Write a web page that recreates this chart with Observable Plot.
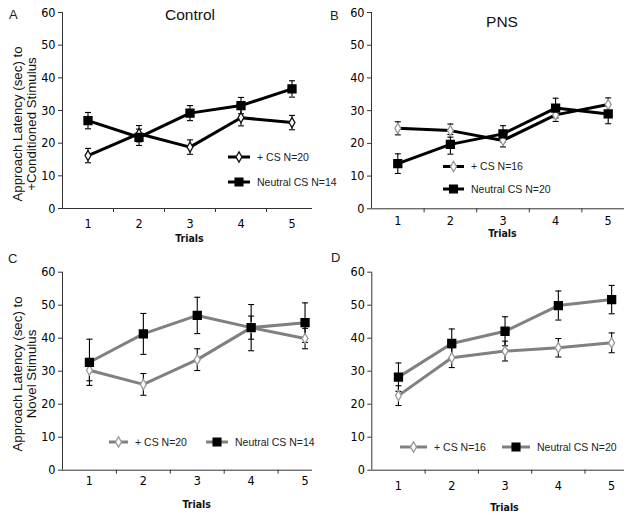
<!DOCTYPE html>
<html><head><meta charset="utf-8">
<script src="https://cdn.jsdelivr.net/npm/d3@7"></script>
<script src="https://cdn.jsdelivr.net/npm/@observablehq/plot@0.6"></script>
<style>
body{margin:0;background:#fff;width:624px;height:518px;overflow:hidden;position:relative}
.panel{position:absolute;width:312px;height:259px;overflow:hidden}
.panel svg{max-width:none !important;height:259px !important}
#overlay{position:absolute;left:0;top:0;pointer-events:none}
</style></head><body>
<script>
// ---- data ----
const trials = [1, 2, 3, 4, 5];
const yTicks = [0, 10, 20, 30, 40, 50, 60];
const boundaryTicks = [1.5, 2.5, 3.5, 4.5];

const A_plus = [16.2, 22.9, 18.8, 27.8, 26.3];
const A_plusErr = [2.2, 2.5, 2.2, 2.5, 2.2];
const A_neutral = [26.9, 21.8, 29.2, 31.5, 36.6];
const A_neutralErr = [2.5, 2.5, 2.3, 2.5, 2.5];

const B_plus = [24.6, 23.9, 20.9, 28.7, 31.9];
const B_plusErr = [2.0, 2.0, 2.0, 2.0, 2.0];
const B_neutral = [13.8, 19.7, 22.9, 30.8, 29.0];
const B_neutralErr = [3.0, 3.0, 2.5, 3.0, 3.0];

const C_plus = [30.3, 26.0, 33.5, 43.2, 39.9];
const C_plusErr = [3.2, 3.3, 3.3, 3.5, 3.1];
const C_neutral = [32.7, 41.3, 46.9, 43.2, 44.7];
const C_neutralErr = [7.0, 6.2, 5.5, 7.0, 6.0];

const D_plus = [22.6, 34.1, 36.1, 37.1, 38.6];
const D_plusErr = [3.0, 3.0, 3.0, 2.8, 3.0];
const D_neutral = [28.2, 38.4, 42.1, 49.9, 51.7];
const D_neutralErr = [4.3, 4.4, 4.4, 4.4, 4.3];

const panelLetters = ["A", "B", "C", "D"];
const panelTitles = ["Control", "PNS", "", ""];
const yLabelsTop = ["Approach Latency (sec) to", "+Conditioned Stimulus"];
const yLabelsBottom = ["Approach Latency (sec) to", "Novel Stimulus"];
const xLabel = "Trials";
const legendPlus = ["+ CS N=20", "+ CS  N=16", "+ CS N=20", "+ CS  N=16"];
const legendNeutral = ["Neutral CS N=14", "Neutral CS  N=20", "Neutral CS N=14", "Neutral CS  N=20"];

// ---- layout / style ----
const tickFont = "'Liberation Sans Narrow','DejaVu Sans Condensed','Arial Narrow',sans-serif";
const textFont = "'Liberation Sans',Arial,sans-serif";

const panels = [
  {left: 0, top: 0, ml: 62, step: 51, yTop: 12, yBot: 208, plus: A_plus, plusErr: A_plusErr, neutral: A_neutral, neutralErr: A_neutralErr,
   line: "#000", dStroke: "#111", tickDy: 14, trialsY: 238, legX: 228, legW: 22, legY1: 157, legY2: 182},
  {left: 312, top: 0, ml: 59, step: 52.6, yTop: 12, yBot: 208.3, plus: B_plus, plusErr: B_plusErr, neutral: B_neutral, neutralErr: B_neutralErr,
   line: "#000", dStroke: "#999", tickDy: 10, trialsY: 233, legX: 443, legW: 21, legY1: 166.5, legY2: 189},
  {left: 0, top: 259, ml: 62, step: 53.9, yTop: 12.7, yBot: 210.7, plus: C_plus, plusErr: C_plusErr, neutral: C_neutral, neutralErr: C_neutralErr,
   line: "#808080", dStroke: "#999", tickDy: 9, trialsY: 504.5, legX: 109, legW: 19, legY1: 442, legY2: 442, legX2: 206, legW2: 22},
  {left: 312, top: 259, ml: 59.3, step: 53.3, yTop: 12.7, yBot: 210.7, plus: D_plus, plusErr: D_plusErr, neutral: D_neutral, neutralErr: D_neutralErr,
   line: "#808080", dStroke: "#999", tickDy: 14, trialsY: 507, legX: 400, legW: 27, legY1: 447, legY2: 447, legX2: 502, legW2: 28}
];

const rDiamond = 3.1, rSquare = 4.4;

panels.forEach((p, k) => {
  const plusRows = trials.map((t, i) => ({trial: t, value: p.plus[i], err: p.plusErr[i]}));
  const neutRows = trials.map((t, i) => ({trial: t, value: p.neutral[i], err: p.neutralErr[i]}));
  const cap = 3 / p.step;
  const errMarks = rows => [
    Plot.ruleX(rows, {x: "trial", y1: d => d.value - d.err, y2: d => d.value + d.err, stroke: "#000", strokeWidth: 1.1}),
    Plot.link(rows, {x1: d => d.trial - cap, x2: d => d.trial + cap, y1: d => d.value + d.err, y2: d => d.value + d.err, stroke: "#000", strokeWidth: 1.1}),
    Plot.link(rows, {x1: d => d.trial - cap, x2: d => d.trial + cap, y1: d => d.value - d.err, y2: d => d.value - d.err, stroke: "#000", strokeWidth: 1.1})
  ];
  const chart = Plot.plot({
    width: p.ml + 5 * p.step + 20,
    height: 259,
    marginLeft: p.ml, marginRight: 20,
    marginTop: p.yTop, marginBottom: 259 - p.yBot,
    x: {domain: [0.5, 5.5]},
    y: {domain: [0, 60]},
    style: {fontFamily: tickFont, fontSize: "12.5px", color: "#000", background: "transparent", maxWidth: "none"},
    marks: [
      Plot.ruleX([0.5], {y1: 0, y2: 60, stroke: "#333", strokeWidth: 1}),
      Plot.ruleY([0], {x1: 0.5, x2: 5.5, stroke: "#333", strokeWidth: 1}),
      Plot.axisY({ticks: yTicks, tickSize: 4, tickPadding: 3, label: null, stroke: "#333", fill: "#000", tickFormat: d => String(d)}),
      Plot.axisX({ticks: trials, tickSize: 0, tickPadding: p.tickDy - 3, label: null, fill: "#000", tickFormat: d => String(d)}),
      Plot.axisX({ticks: boundaryTicks, tickSize: 4, tickFormat: () => "", label: null, stroke: "#333"}),
      Plot.line(plusRows, {x: "trial", y: "value", stroke: p.line, strokeWidth: 3}),
      Plot.line(neutRows, {x: "trial", y: "value", stroke: p.line, strokeWidth: 3}),
      ...errMarks(plusRows),
      ...errMarks(neutRows),
      Plot.dot(plusRows, {x: "trial", y: "value", symbol: "diamond", r: rDiamond, fill: "#fff", stroke: p.dStroke, strokeWidth: 1.3}),
      Plot.dot(neutRows, {x: "trial", y: "value", symbol: "square", r: rSquare, fill: "#000", stroke: "#000"})
    ]
  });
  const div = document.createElement("div");
  div.className = "panel";
  div.style.left = p.left + "px";
  div.style.top = p.top + "px";
  div.appendChild(chart);
  document.body.appendChild(div);
});

// ---- overlay text & legends ----
const svg = d3.select("body").append("svg").attr("id", "overlay").attr("width", 624).attr("height", 518);

const letterPos = [[9, 19], [330, 20], [8, 263], [331, 262]];
panelLetters.forEach((l, i) => svg.append("text").attr("x", letterPos[i][0]).attr("y", letterPos[i][1])
  .attr("font-family", textFont).attr("font-size", 13).attr("fill", "#222").text(l));

const titlePos = [[190, 20], [502, 27]];
titlePos.forEach((tp, i) => svg.append("text").attr("x", tp[0]).attr("y", tp[1]).attr("text-anchor", "middle")
  .attr("font-family", textFont).attr("font-size", 15.5).attr("fill", "#111").text(panelTitles[i]));

function yLabel(lines, cx, cy) {
  lines.forEach((t, j) => svg.append("text")
    .attr("transform", `translate(${cx + j * 14.5},${cy}) rotate(-90)`)
    .attr("text-anchor", "middle").attr("dy", "0.35em")
    .attr("font-family", textFont).attr("font-size", 13.3).attr("fill", "#111").text(t));
}
yLabel(yLabelsTop, 17, 124);
yLabel(yLabelsBottom, 17, 374);

panels.forEach((p, k) => {
  const cx = p.left + p.ml + 2.5 * p.step;
  svg.append("text").attr("x", cx).attr("y", p.trialsY).attr("dy", "0.35em").attr("text-anchor", "middle")
    .attr("font-family", tickFont).attr("font-size", 10.5).attr("font-weight", "bold").attr("fill", "#111").text(xLabel);

  const diamondPath = d3.symbol(d3.symbolDiamond, Math.PI * rDiamond * rDiamond)();
  const squarePath = d3.symbol(d3.symbolSquare, Math.PI * rSquare * rSquare)();
  const entries = [
    {x: p.legX, w: p.legW, y: p.legY1, path: diamondPath, fill: "#fff", stroke: p.dStroke, label: legendPlus[k]},
    {x: p.legX2 ?? p.legX, w: p.legW2 ?? p.legW, y: p.legY2, path: squarePath, fill: "#000", stroke: "#000", label: legendNeutral[k]}
  ];
  entries.forEach(e => {
    svg.append("line").attr("x1", e.x).attr("x2", e.x + e.w).attr("y1", e.y).attr("y2", e.y)
      .attr("stroke", p.line).attr("stroke-width", 3);
    svg.append("path").attr("d", e.path).attr("transform", `translate(${e.x + e.w / 2},${e.y})`)
      .attr("fill", e.fill).attr("stroke", e.stroke).attr("stroke-width", 1.3);
    svg.append("text").attr("x", e.x + e.w + 7).attr("y", e.y).attr("dy", "0.35em")
      .attr("font-family", textFont).attr("font-size", 10.5).attr("fill", "#222").text(e.label);
  });
});
</script>
</body></html>
